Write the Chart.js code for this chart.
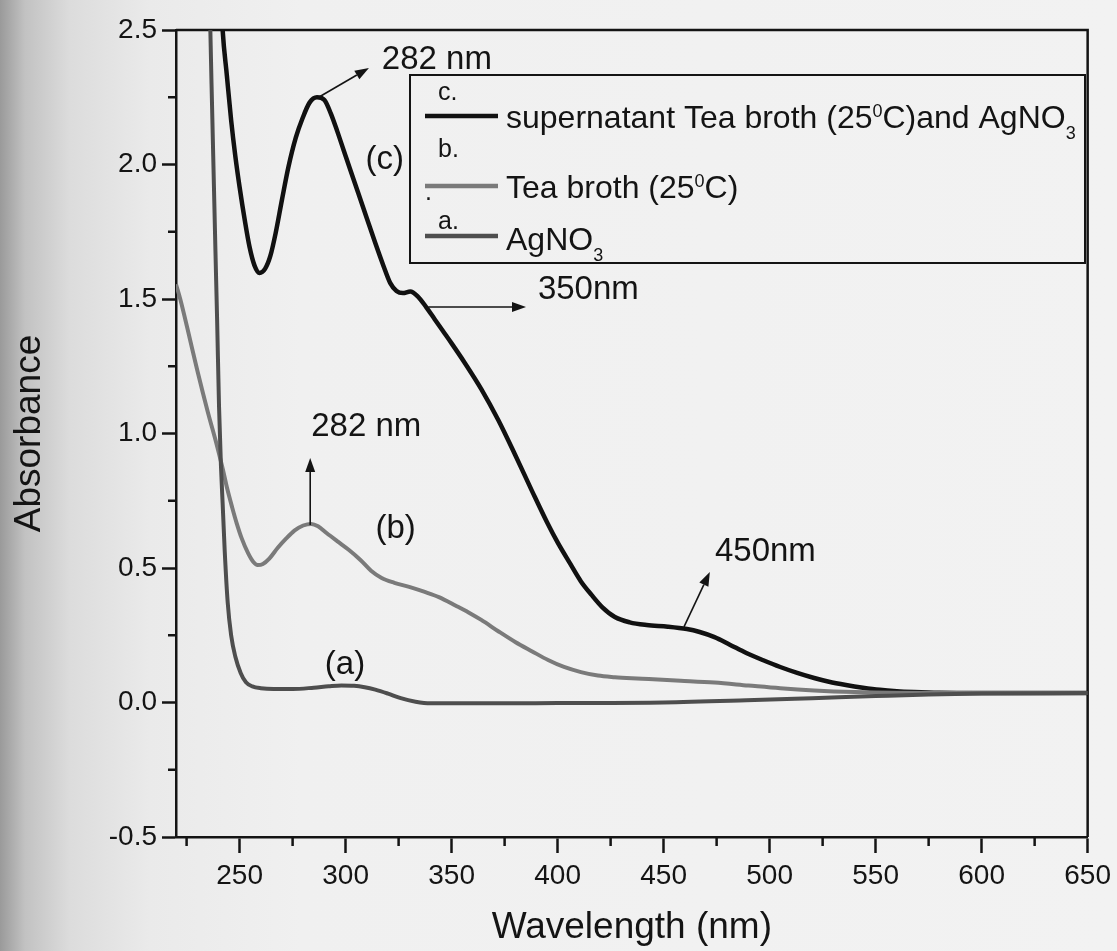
<!DOCTYPE html>
<html>
<head>
<meta charset="utf-8">
<script src="https://cdn.jsdelivr.net/npm/chart.js@4/dist/chart.umd.min.js"></script>
<style>
html, body { margin: 0; padding: 0; }
body {
    width: 1117px; height: 951px; overflow: hidden;
    background: linear-gradient(to right, #9a9a9a 0px, #c2c2c2 25px, #dcdcdc 70px, #eaeaea 150px, #f0f0f0 300px, #f2f2f2 100%);
}
#wrap { position: relative; width: 1117px; height: 951px; }
</style>
</head>
<body>
<div id="wrap"><canvas id="uv-chart"></canvas></div>
<script>
// ===== Data =====

// (a) AgNO3
const wlA = [235.5, 236.2, 237, 237.8, 238.6, 239.4, 240.3, 241.2, 242, 243, 244.4, 246, 248, 250.5, 253, 256, 260, 266, 275, 285,
             292, 298, 304, 309, 314, 320, 326, 333, 340, 360, 400, 450, 489, 520, 550, 575, 600, 650];
const absA = [2.85, 2.50, 2.22, 1.95, 1.68, 1.42, 1.10, 0.88, 0.74, 0.56, 0.37, 0.25, 0.17, 0.11, 0.075, 0.06, 0.053, 0.05, 0.05, 0.055,
              0.06, 0.063, 0.062, 0.057, 0.048, 0.033, 0.016, 0.003, -0.003, -0.003, -0.002, 0.0, 0.008, 0.016, 0.024, 0.03, 0.033, 0.035];

// (b) Tea broth (25 C)
const wlB = [220, 222, 226, 230, 235, 239, 242, 244, 246.5, 248.6, 251, 254, 256.5, 258.5, 261, 264, 268, 272, 276, 280,
             283.8, 287, 291, 296, 301.6, 307, 312, 317, 323, 330, 337, 344, 352, 358, 364, 372, 380, 388, 395.5, 403,
             411, 419, 427, 435, 443, 458, 474, 490, 505, 521, 540, 560, 600, 650];
const absB = [1.555, 1.50, 1.37, 1.236, 1.08, 0.965, 0.87, 0.80, 0.725, 0.667, 0.61, 0.555, 0.522, 0.511, 0.515, 0.535, 0.575, 0.61, 0.64, 0.658,
              0.664, 0.655, 0.63, 0.60, 0.567, 0.53, 0.49, 0.463, 0.445, 0.43, 0.412, 0.392, 0.36, 0.335, 0.307, 0.265, 0.225, 0.19, 0.158, 0.132,
              0.113, 0.10, 0.094, 0.09, 0.087, 0.081, 0.074, 0.063, 0.053, 0.045, 0.039, 0.036, 0.035, 0.035];

// (c) supernatant Tea broth (25 C) and AgNO3
const wlC = [240.5, 242, 244, 246, 248, 250, 252.5, 254.7, 257, 259.4, 262, 264.5, 267, 270, 273, 276.5, 279.6, 283, 286.5, 290,
             293, 296, 299, 302, 306, 310, 314, 318, 321, 324, 327, 330.5, 334, 338, 342, 346, 350, 356, 364, 372,
             380, 388, 395, 400, 406, 411, 416, 421, 427, 434, 442, 452, 461, 467, 474, 481, 489, 497, 505, 513,
             521, 528, 536, 544, 552, 560, 568, 580, 600, 625, 650];
const absC = [2.75, 2.50, 2.33, 2.165, 2.03, 1.916, 1.79, 1.693, 1.625, 1.597, 1.612, 1.66, 1.745, 1.87, 1.99, 2.10, 2.17, 2.23, 2.25, 2.24,
              2.19, 2.125, 2.055, 1.985, 1.893, 1.80, 1.708, 1.62, 1.56, 1.53, 1.522, 1.528, 1.51, 1.47, 1.425, 1.38, 1.335, 1.265, 1.165, 1.05,
              0.92, 0.785, 0.67, 0.595, 0.515, 0.45, 0.40, 0.355, 0.318, 0.298, 0.288, 0.282, 0.273, 0.262, 0.243, 0.216, 0.184, 0.157, 0.132, 0.11,
              0.091, 0.077, 0.065, 0.055, 0.047, 0.042, 0.039, 0.036, 0.035, 0.035, 0.035];

const seriesLabels = ['AgNO\u2083', 'Tea broth (25\u2070C)', 'supernatant Tea broth (25\u2070C)and AgNO\u2083'];

// axis ticks
const xMajor = [250, 300, 350, 400, 450, 500, 550, 600, 650];
const xMinor = [225, 275, 325, 375, 425, 475, 525, 575, 625];
const yMajor = [-0.5, 0.0, 0.5, 1.0, 1.5, 2.0, 2.5];
const yMinor = [-0.25, 0.25, 0.75, 1.25, 1.75, 2.25];

// peak labels (data coordinates)
const noteTexts = ['282 nm', '(c)', '350nm', '282 nm', '(b)', '(a)', '450nm'];
const noteX = [317.1, 318.5, 390.7, 283.8, 323.6, 299.7, 474.2];
const noteY = [2.388, 2.017, 1.533, 1.024, 0.645, 0.139, 0.560];
const noteAlign = ['left', 'center', 'left', 'left', 'center', 'center', 'left'];

// arrows: [x0, y0, x1, y1] in data coordinates
const arrows = [
    [287.5, 2.251, 311.0, 2.359],
    [339.0, 1.470, 385.1, 1.470],
    [283.3, 0.660, 283.3, 0.909],
    [459.6, 0.281, 471.8, 0.485]
];

// ===== Style =====

const ink = '#141414';
const family = "'Liberation Sans', Arial, sans-serif";
const colors = ['#4e4e4e', '#7a7a7a', '#111111'];
const widths = [4, 4, 4.5];

// ===== Plugins =====

const framePlugin = {
    id: 'frame',
    beforeDatasetsDraw(chart) {
        const {ctx, chartArea: a} = chart;
        ctx.save();
        ctx.strokeStyle = ink;
        ctx.lineWidth = 2.5;
        ctx.beginPath();
        ctx.moveTo(a.left, a.top);
        ctx.lineTo(a.right, a.top);
        ctx.lineTo(a.right, a.bottom);
        ctx.stroke();

        // minor ticks
        const xs = chart.scales.x, ys = chart.scales.y;
        ctx.beginPath();
        xMinor.forEach(v => {
            const px = xs.getPixelForValue(v);
            ctx.moveTo(px, a.bottom);
            ctx.lineTo(px, a.bottom + 9);
        });
        yMinor.forEach(v => {
            const py = ys.getPixelForValue(v);
            ctx.moveTo(a.left, py);
            ctx.lineTo(a.left - 8, py);
        });
        ctx.stroke();
        ctx.restore();
    }
};

const notesPlugin = {
    id: 'notes',
    afterDatasetsDraw(chart) {
        const {ctx} = chart;
        const xs = chart.scales.x, ys = chart.scales.y;
        ctx.save();
        ctx.fillStyle = ink;
        ctx.font = `33px ${family}`;
        ctx.textBaseline = 'middle';
        noteTexts.forEach((t, i) => {
            ctx.textAlign = noteAlign[i];
            ctx.fillText(t, xs.getPixelForValue(noteX[i]), ys.getPixelForValue(noteY[i]));
        });

        ctx.strokeStyle = ink;
        ctx.lineWidth = 1.6;
        arrows.forEach(([x0, y0, x1, y1]) => {
            const px0 = xs.getPixelForValue(x0), py0 = ys.getPixelForValue(y0);
            const px1 = xs.getPixelForValue(x1), py1 = ys.getPixelForValue(y1);
            const ang = Math.atan2(py1 - py0, px1 - px0);
            const hl = 14, hw = 5;
            const bx = px1 - hl * Math.cos(ang), by = py1 - hl * Math.sin(ang);
            ctx.beginPath();
            ctx.moveTo(px0, py0);
            ctx.lineTo(bx, by);
            ctx.stroke();
            ctx.beginPath();
            ctx.moveTo(px1, py1);
            ctx.lineTo(bx + hw * Math.sin(ang), by - hw * Math.cos(ang));
            ctx.lineTo(bx - hw * Math.sin(ang), by + hw * Math.cos(ang));
            ctx.closePath();
            ctx.fill();
        });
        ctx.restore();
    }
};

// legend rows drawn top to bottom: c, b, a
const legendRows = [
    {ds: 2, key: 'c.', keyY: 93, lineY: 116, baseY: 128, parts: [['supernatant Tea broth (25', 0], ['0', 1], ['C)and AgNO', 0], ['3', -1]]},
    {ds: 1, key: 'b.', keyY: 150, lineY: 186, baseY: 198, parts: [['Tea broth (25', 0], ['0', 1], ['C)', 0]]},
    {ds: 0, key: 'a.', keyY: 222, lineY: 236, baseY: 250, parts: [['AgNO', 0], ['3', -1]]}
];

const legendPlugin = {
    id: 'boxLegend',
    afterDatasetsDraw(chart) {
        const {ctx} = chart;
        ctx.save();
        ctx.strokeStyle = ink;
        ctx.lineWidth = 2;
        ctx.strokeRect(410, 75, 675, 188);

        legendRows.forEach(row => {
            const ds = chart.data.datasets[row.ds];
            ctx.strokeStyle = ds.borderColor;
            ctx.lineWidth = 4.5;
            ctx.beginPath();
            ctx.moveTo(425, row.lineY);
            ctx.lineTo(498, row.lineY);
            ctx.stroke();

            ctx.fillStyle = ink;
            ctx.textAlign = 'left';
            ctx.textBaseline = 'middle';
            ctx.font = `25px ${family}`;
            ctx.fillText(row.key, 438, row.keyY);

            ctx.textBaseline = 'alphabetic';
            let x = 506;
            row.parts.forEach(([t, shift]) => {
                if (shift === 0) {
                    ctx.font = `32px ${family}`;
                    ctx.fillText(t, x, row.baseY);
                } else {
                    ctx.font = `18px ${family}`;
                    ctx.fillText(t, x, row.baseY + (shift > 0 ? -11 : 11));
                }
                x += ctx.measureText(t).width;
            });
        });
        ctx.font = `25px ${family}`;
        ctx.fillText('.', 425, 200);
        ctx.restore();
    }
};

// ===== Chart =====

const series = [[wlA, absA], [wlB, absB], [wlC, absC]];

const datasets = series.map(([wl, ab], i) => ({
    label: seriesLabels[i],
    data: wl.map((x, j) => ({x: x, y: ab[j]})),
    borderColor: colors[i],
    backgroundColor: colors[i],
    borderWidth: widths[i],
    pointRadius: 0,
    fill: false,
    cubicInterpolationMode: 'monotone',
    clip: 0
}));

const chart = new Chart(document.getElementById('uv-chart'), {
    type: 'line',
    data: {datasets: datasets},
    options: {
        responsive: true,
        maintainAspectRatio: false,
        animation: false,
        devicePixelRatio: 1,
        layout: {padding: {top: 30, right: 24, left: 0, bottom: 0}},
        plugins: {
            legend: {display: false},
            tooltip: {enabled: false}
        },
        scales: {
            x: {
                type: 'linear',
                min: 220,
                max: 650,
                afterBuildTicks: s => { s.ticks = xMajor.map(v => ({value: v})); },
                afterFit: s => { s.height = 114; },
                grid: {drawOnChartArea: false, drawTicks: true, tickLength: 16, tickWidth: 2.5, tickColor: ink},
                border: {display: true, color: ink, width: 2.5},
                ticks: {color: ink, font: {family: family, size: 28}, padding: 6, maxRotation: 0, autoSkip: false,
                        callback: v => String(v)},
                title: {display: true, text: 'Wavelength (nm)', color: ink, font: {family: family, size: 37},
                        padding: {top: 0, bottom: 1}}
            },
            y: {
                type: 'linear',
                min: -0.5,
                max: 2.5,
                afterBuildTicks: s => { s.ticks = yMajor.map(v => ({value: v})); },
                afterFit: s => { s.width = 176; },
                grid: {drawOnChartArea: false, drawTicks: true, tickLength: 14, tickWidth: 2.5, tickColor: ink},
                border: {display: true, color: ink, width: 2.5},
                ticks: {color: ink, font: {family: family, size: 28}, padding: 5, autoSkip: false,
                        callback: v => v.toFixed(1)},
                title: {display: true, text: 'Absorbance', color: ink, font: {family: family, size: 37},
                        padding: {top: 8, bottom: 0}}
            }
        }
    },
    plugins: [framePlugin, notesPlugin, legendPlugin]
});
</script>
</body>
</html>
